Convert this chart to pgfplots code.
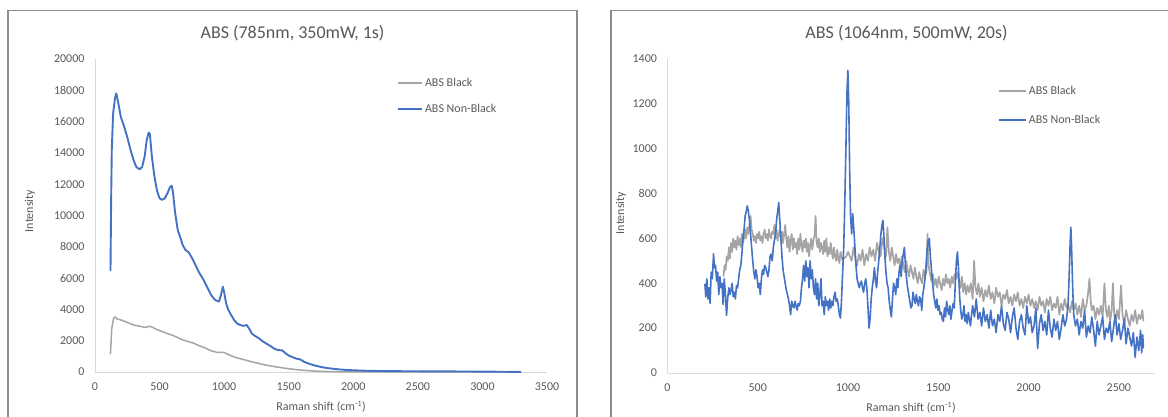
\documentclass[border=0pt]{standalone}
\usepackage{fontspec}
\setmainfont{Carlito}
\usepackage{pgfplots}
\pgfplotsset{compat=1.18}
\definecolor{absblue}{HTML}{4472C4}
\definecolor{absgray}{HTML}{A5A5A5}
\definecolor{txt}{HTML}{595959}
\definecolor{axl}{HTML}{D9D9D9}
\definecolor{frm}{HTML}{8C8C8C}
\pgfplotsset{
 chartstyle/.style={
  scale only axis, anchor=south west,
  axis lines=left, axis line style={axl, line width=1pt, -},
  major tick length=0pt,
  tick label style={font=\fontsize{12}{14}\selectfont, text=txt},
  /pgf/number format/assume math mode=true,
  /pgf/number format/1000 sep={},
  scaled ticks=false,
  xticklabel style={yshift=-7pt},
  yticklabel style={xshift=-7pt},
  legend style={draw=none, fill=none, font=\fontsize{12}{14}\selectfont, text=txt, anchor=north west, row sep=12pt, inner sep=0pt},
  legend cell align=left,
  line join=round,
 }
}
\begin{document}
\begin{tikzpicture}[x=1pt,y=1pt]
\path[use as bounding box] (0,0) rectangle (1168,416);
\draw[frm, line width=1.3pt] (8,-3) -- (8,405.5) -- (577,405.5) -- (577,-3);
\draw[frm, line width=1.3pt] (611,-3) -- (611,405.5) -- (1172,405.5);

\node[font=\fontsize{18}{20}\selectfont, text=txt] at (292.5,383) {ABS (785nm, 350mW, 1s)};
\node[font=\fontsize{18}{20}\selectfont, text=txt] at (906.5,383) {ABS (1064nm, 500mW, 20s)};
\node[font=\fontsize{12}{14}\selectfont, text=txt] at (321,9) {Raman shift (cm\textsuperscript{-1})};
\node[font=\fontsize{12}{14}\selectfont, text=txt] at (911,8) {Raman shift (cm\textsuperscript{-1})};
\node[font=\fontsize{12}{14}\selectfont, text=txt, rotate=90] at (30,205) {Intensity};
\node[font=\fontsize{12}{14}\selectfont, text=txt, rotate=90] at (621,203) {Intensity};

\begin{axis}[chartstyle, at={(95pt,44pt)}, width=452pt, height=313pt,
  xmin=0, xmax=3500, ymin=0, ymax=20000,
  xtick={0,500,...,3500}, ytick={0,2000,...,20000},
  legend style={at={(axis description cs:0.668,0.946)}},
  legend image code/.code={\draw[#1] (0pt,0pt) -- (24pt,0pt);}]
\addplot[absgray, line width=1.5pt] coordinates {
(115,1170) (120,1200) (130,2800) (145,3450) (155,3520) (170,3400) (190,3350) (210,3300) (240,3200) (270,3100) (300,3000) (330,2950) (360,2900) (390,2850) (420,2920) (440,2880) (470,2750) (500,2650) (530,2550) (560,2450) (600,2350) (640,2200) (680,2050) (720,1950) (760,1850) (800,1700) (850,1550) (900,1350) (950,1250) (1000,1250) (1050,1050) (1100,900) (1150,800) (1200,680) (1250,580) (1300,480) (1350,400) (1400,330) (1450,270) (1500,210) (1550,160) (1600,120) (1650,90) (1700,60) (1800,30) (1900,15) (2000,10) (2500,5) (3000,2) (3300,0)
};
\addlegendentry{ABS Black}
\addplot[absblue, line width=1.9pt] coordinates {
(115,6500) (120,6500) (125,11000) (130,14200) (140,16500) (155,17500) (165,17800) (180,17200) (200,16300) (225,15700) (250,15000) (275,14200) (300,13500) (320,13100) (345,12950) (365,13100) (385,13800) (400,14800) (415,15300) (425,15200) (440,13800) (460,12500) (480,11600) (500,11100) (520,11000) (540,11100) (560,11400) (580,11800) (595,11900) (605,11400) (620,10200) (640,9100) (660,8600) (680,8100) (700,7800) (725,7650) (750,7300) (780,6800) (810,6300) (840,5900) (870,5400) (900,4900) (930,4600) (960,4500) (975,4900) (990,5450) (1000,5100) (1015,4400) (1030,4000) (1050,3700) (1075,3350) (1100,3100) (1125,3000) (1150,2950) (1175,3000) (1195,2750) (1215,2450) (1240,2300) (1270,2150) (1300,1950) (1330,1800) (1360,1650) (1390,1480) (1420,1400) (1450,1380) (1475,1200) (1500,1050) (1530,950) (1560,850) (1590,800) (1620,650) (1660,520) (1700,420) (1750,320) (1800,250) (1850,200) (1900,160) (1950,130) (2000,110) (2100,80) (2200,65) (2300,55) (2500,45) (2700,40) (2900,30) (3100,20) (3300,5)
};
\addlegendentry{ABS Non-Black}
\end{axis}

\begin{axis}[chartstyle, at={(667.5pt,43pt)}, width=487.5pt, height=314pt,
  xmin=0, xmax=2700, ymin=0, ymax=1400,
  xtick={0,500,...,2500}, ytick={0,200,...,1400},
  legend style={at={(axis description cs:0.678,0.92)}, row sep=15pt},
  legend image code/.code={\draw[#1] (0pt,0pt) -- (27pt,0pt);}]
\addplot[absgray, line width=1.7pt] coordinates {
(310,430) (316,480) (322,460) (328,520) (334,500) (340,560) (346,510) (352,580) (358,540) (364,600) (370,560) (376,590) (382,550) (388,610) (394,570) (400,600) (406,560) (412,620) (418,580) (424,600) (430,640) (436,600) (442,650) (448,620) (454,660) (460,700) (466,640) (472,620) (478,590) (484,610) (490,580) (496,620) (502,600) (508,630) (514,590) (520,610) (526,580) (532,620) (538,640) (544,600) (550,620) (556,590) (562,640) (568,610) (574,600) (580,630) (586,620) (592,660) (598,600) (604,640) (610,590) (616,620) (622,640) (628,600) (634,630) (640,580) (646,620) (652,660) (658,600) (664,560) (670,610) (676,540) (682,590) (688,620) (694,550) (700,600) (706,560) (712,580) (718,530) (724,600) (730,550) (736,620) (742,570) (748,540) (754,590) (760,560) (766,600) (772,540) (778,580) (784,520) (790,570) (796,600) (802,550) (808,590) (814,610) (820,700) (826,580) (832,560) (838,600) (844,540) (850,580) (856,560) (862,530) (868,590) (874,540) (880,600) (886,520) (892,560) (898,530) (904,580) (910,540) (916,510) (922,560) (928,520) (934,500) (940,550) (946,510) (952,490) (958,540) (964,520) (970,500) (976,510) (990,520) (1000,540) (1010,520) (1020,500) (1030,560) (1040,510) (1050,480) (1060,530) (1070,500) (1080,550) (1090,480) (1100,530) (1110,500) (1120,560) (1130,520) (1140,550) (1150,500) (1160,580) (1170,540) (1180,520) (1190,600) (1200,560) (1210,520) (1218,650) (1226,540) (1234,500) (1242,560) (1250,520) (1258,480) (1266,530) (1274,490) (1282,510) (1290,470) (1298,520) (1306,480) (1314,450) (1322,500) (1330,460) (1338,430) (1346,480) (1354,450) (1362,420) (1370,470) (1378,430) (1386,400) (1394,450) (1402,420) (1410,400) (1418,460) (1426,430) (1434,450) (1440,620) (1446,480) (1454,440) (1462,410) (1470,440) (1478,390) (1486,420) (1494,380) (1502,430) (1510,400) (1518,370) (1526,420) (1534,390) (1542,440) (1550,400) (1558,420) (1566,380) (1574,430) (1582,400) (1590,440) (1598,420) (1606,450) (1614,410) (1622,380) (1630,430) (1638,360) (1646,400) (1654,350) (1662,390) (1670,360) (1680,400) (1690,330) (1698,500) (1706,380) (1714,350) (1722,400) (1730,340) (1740,380) (1750,320) (1760,370) (1770,340) (1780,390) (1790,330) (1800,360) (1810,310) (1820,380) (1830,340) (1840,360) (1850,300) (1860,350) (1870,330) (1880,370) (1890,310) (1900,340) (1910,300) (1920,350) (1930,320) (1940,360) (1950,300) (1960,330) (1970,290) (1980,340) (1990,310) (2000,350) (2010,300) (2020,330) (2030,290) (2040,320) (2050,280) (2060,340) (2070,300) (2080,320) (2090,270) (2100,330) (2110,300) (2120,340) (2130,280) (2140,310) (2150,290) (2160,340) (2170,260) (2180,310) (2190,280) (2200,330) (2210,290) (2220,300) (2230,270) (2240,320) (2250,280) (2260,310) (2270,260) (2280,300) (2290,250) (2300,330) (2310,280) (2320,300) (2330,360) (2337,420) (2344,320) (2350,280) (2360,300) (2370,240) (2380,290) (2390,260) (2400,300) (2410,250) (2420,400) (2428,280) (2436,250) (2444,300) (2452,230) (2460,280) (2467,400) (2474,260) (2482,230) (2490,280) (2500,240) (2512,390) (2520,260) (2530,220) (2540,280) (2550,240) (2560,210) (2570,260) (2580,230) (2590,280) (2600,220) (2610,260) (2620,240) (2630,280) (2636,230)
};
\addlegendentry{ABS Black}
\addplot[absblue, line width=1.6pt] coordinates {
(207,398) (212,340) (218,420) (224,330) (230,380) (236,310) (242,450) (248,420) (255,532) (260,470) (266,480) (272,410) (278,450) (284,350) (290,430) (296,380) (302,400) (308,306) (314,420) (320,360) (327,257) (333,330) (340,380) (346,350) (352,370) (358,400) (364,340) (370,360) (376,330) (382,390) (388,380) (394,420) (400,460) (406,480) (412,530) (418,600) (424,640) (430,700) (436,720) (442,745) (448,720) (454,680) (460,620) (466,560) (472,500) (478,450) (484,420) (490,460) (496,430) (502,380) (508,400) (514,350) (520,420) (526,460) (532,440) (538,480) (544,470) (550,450) (556,430) (562,460) (568,520) (574,530) (580,500) (586,560) (592,590) (598,620) (604,680) (610,720) (616,760) (622,680) (628,600) (634,520) (640,460) (646,430) (652,400) (658,370) (664,350) (670,330) (676,300) (682,260) (688,320) (694,300) (700,290) (706,320) (712,300) (718,280) (724,310) (730,300) (736,320) (742,380) (748,420) (754,480) (760,410) (766,500) (772,430) (778,470) (784,380) (790,500) (796,420) (802,460) (808,380) (814,350) (820,420) (826,330) (832,400) (838,300) (844,350) (850,420) (856,300) (862,320) (868,260) (874,340) (880,300) (886,320) (892,280) (898,330) (904,290) (910,320) (916,300) (922,340) (928,360) (934,320) (940,330) (946,300) (952,260) (958,245) (964,330) (970,450) (976,560) (982,760) (988,1000) (994,1250) (999,1350) (1004,1200) (1009,900) (1014,700) (1020,620) (1026,710) (1032,640) (1038,560) (1044,480) (1050,420) (1056,400) (1062,380) (1068,400) (1074,410) (1080,380) (1086,360) (1092,400) (1098,420) (1104,380) (1110,300) (1116,200) (1122,240) (1128,330) (1134,380) (1140,420) (1146,470) (1152,410) (1158,380) (1164,450) (1170,500) (1176,560) (1182,620) (1188,660) (1193,680) (1198,620) (1204,520) (1210,450) (1216,400) (1222,380) (1228,320) (1234,280) (1240,250) (1246,330) (1252,400) (1258,380) (1264,350) (1270,420) (1276,380) (1282,450) (1288,480) (1294,430) (1300,500) (1306,530) (1312,560) (1318,480) (1324,420) (1330,380) (1336,350) (1342,320) (1348,290) (1354,300) (1360,360) (1366,330) (1372,310) (1378,350) (1384,320) (1390,300) (1396,340) (1402,330) (1408,280) (1414,350) (1420,380) (1426,420) (1432,480) (1438,550) (1444,590) (1450,600) (1456,520) (1462,460) (1468,400) (1474,350) (1480,320) (1486,290) (1492,330) (1498,280) (1504,300) (1510,260) (1516,270) (1522,240) (1528,230) (1534,290) (1540,250) (1546,320) (1552,280) (1558,260) (1564,300) (1570,240) (1576,280) (1582,310) (1588,290) (1594,400) (1600,500) (1606,540) (1612,460) (1618,340) (1624,280) (1630,240) (1636,260) (1642,300) (1648,230) (1654,260) (1660,220) (1666,270) (1672,240) (1678,210) (1684,260) (1690,300) (1700,250) (1710,330) (1720,240) (1730,270) (1740,210) (1750,290) (1760,230) (1770,260) (1780,200) (1790,280) (1800,210) (1810,240) (1820,180) (1830,260) (1840,230) (1850,300) (1860,220) (1870,190) (1880,270) (1890,240) (1900,180) (1910,250) (1920,290) (1930,200) (1940,150) (1950,230) (1960,260) (1970,200) (1980,170) (1990,300) (2000,220) (2010,250) (2020,180) (2030,210) (2040,290) (2050,110) (2060,220) (2070,260) (2080,190) (2090,230) (2100,170) (2110,280) (2120,200) (2130,160) (2140,240) (2150,190) (2160,230) (2170,150) (2180,200) (2190,260) (2200,210) (2210,240) (2218,300) (2224,420) (2230,580) (2234,650) (2238,560) (2244,380) (2250,260) (2260,210) (2270,240) (2280,170) (2290,230) (2300,200) (2310,280) (2320,160) (2330,210) (2340,180) (2350,250) (2360,190) (2370,120) (2380,230) (2390,170) (2400,210) (2410,250) (2420,150) (2430,200) (2440,180) (2450,230) (2460,140) (2470,200) (2480,260) (2490,170) (2500,220) (2510,150) (2520,190) (2530,240) (2540,130) (2550,200) (2560,160) (2570,120) (2580,180) (2590,70) (2600,160) (2610,100) (2620,190) (2626,90) (2632,170) (2636,110)
};
\addlegendentry{ABS Non-Black}
\end{axis}
\end{tikzpicture}
\end{document}
